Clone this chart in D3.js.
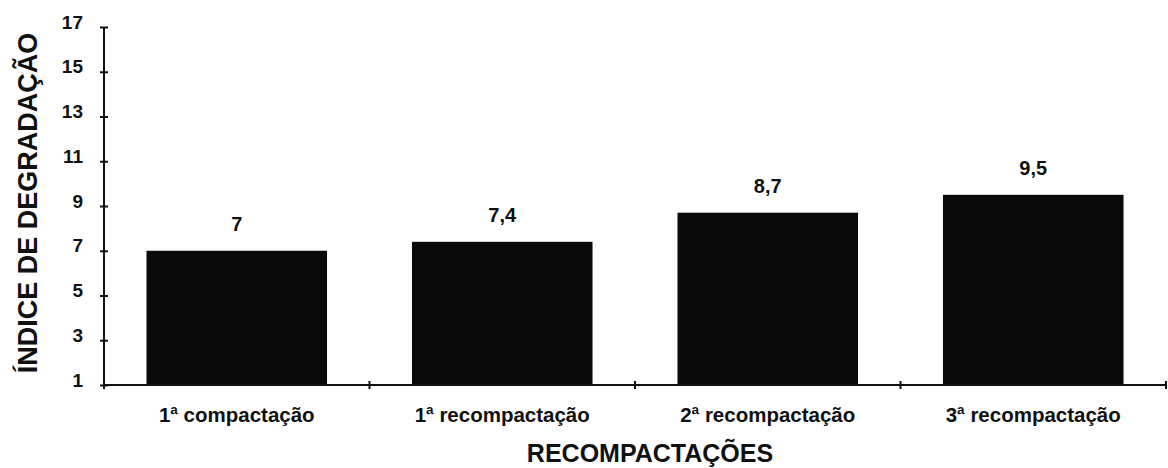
<!DOCTYPE html>
<html>
<head>
<meta charset="utf-8">
<script src="https://cdn.jsdelivr.net/npm/d3@7"></script>
<style>
  html, body { margin: 0; padding: 0; background: #fff; }
  text { font-family: "Liberation Sans", Arial, sans-serif; font-weight: bold; fill: #111; }
</style>
</head>
<body>
<svg id="chart" width="1168" height="468"></svg>
<script>
// Degradation index per compaction stage
const categories = ["1ª compactação", "1ª recompactação", "2ª recompactação", "3ª recompactação"];
const values = [7, 7.4, 8.7, 9.5];
const valueLabels = ["7", "7,4", "8,7", "9,5"];
const yTicks = [1, 3, 5, 7, 9, 11, 13, 15, 17];

(function () {
  const svg = d3.select("#chart");
  const plotLeft = 104, plotRight = 1166, plotTop = 27, plotBottom = 385;

  const x = d3.scaleBand().domain(categories).range([plotLeft, plotRight]).paddingInner(0.32).paddingOuter(0.16);
  const y = d3.scaleLinear().domain([1, 17]).range([plotBottom, plotTop]);

  // Bars
  svg.selectAll("rect.bar").data(values).enter().append("rect")
    .attr("class", "bar")
    .attr("x", (d, i) => x(categories[i]))
    .attr("width", x.bandwidth())
    .attr("y", d => y(d))
    .attr("height", d => y(1) - y(d))
    .attr("fill", "#0a0a0a");

  // Value labels above bars
  svg.selectAll("text.val").data(values).enter().append("text")
    .attr("class", "val")
    .attr("x", (d, i) => x(categories[i]) + x.bandwidth() / 2)
    .attr("y", d => y(d) - 20)
    .attr("text-anchor", "middle")
    .style("font-size", "20px")
    .text((d, i) => valueLabels[i]);

  // Y axis with ticks crossing the line; labels sit slightly above their ticks
  const yAxis = d3.axisLeft(y).tickValues(yTicks).tickSize(4).tickPadding(17).tickFormat(d3.format("d"));
  const gy = svg.append("g").attr("transform", `translate(${plotLeft},0)`).call(yAxis);
  gy.select(".domain").attr("d", `M0,${plotTop}V${plotBottom}`).attr("stroke", "#111").attr("stroke-width", 2);
  gy.selectAll(".tick line").attr("x1", -4).attr("x2", 4).attr("stroke", "#111").attr("stroke-width", 2);
  gy.selectAll(".tick text")
    .attr("y", -5)
    .style("font-size", "19px").style("font-family", "Liberation Sans, Arial, sans-serif")
    .style("font-weight", "bold").attr("fill", "#111");

  // X axis: boundary ticks between categories
  const boundaries = d3.range(categories.length + 1).map(i => plotLeft + i * x.step());
  svg.append("line").attr("x1", plotLeft).attr("x2", plotRight).attr("y1", plotBottom).attr("y2", plotBottom)
    .attr("stroke", "#111").attr("stroke-width", 2);
  svg.selectAll("line.xt").data(boundaries).enter().append("line")
    .attr("class", "xt")
    .attr("x1", d => d).attr("x2", d => d)
    .attr("y1", plotBottom - 4).attr("y2", plotBottom + 4)
    .attr("stroke", "#111").attr("stroke-width", 2);

  // Category labels
  svg.selectAll("text.cat").data(categories).enter().append("text")
    .attr("class", "cat")
    .attr("x", d => x(d) + x.bandwidth() / 2)
    .attr("y", 422)
    .attr("text-anchor", "middle")
    .style("font-size", "20.5px")
    .text(d => d);

  // Axis titles
  svg.append("text")
    .attr("x", 650)
    .attr("y", 462)
    .attr("text-anchor", "middle")
    .style("font-size", "25px")
    .text("RECOMPACTAÇÕES");

  svg.append("text")
    .attr("transform", "translate(37,203) rotate(-90)")
    .attr("text-anchor", "middle")
    .style("font-size", "27px")
    .text("ÍNDICE DE DEGRADAÇÃO");
})();
</script>
</body>
</html>
